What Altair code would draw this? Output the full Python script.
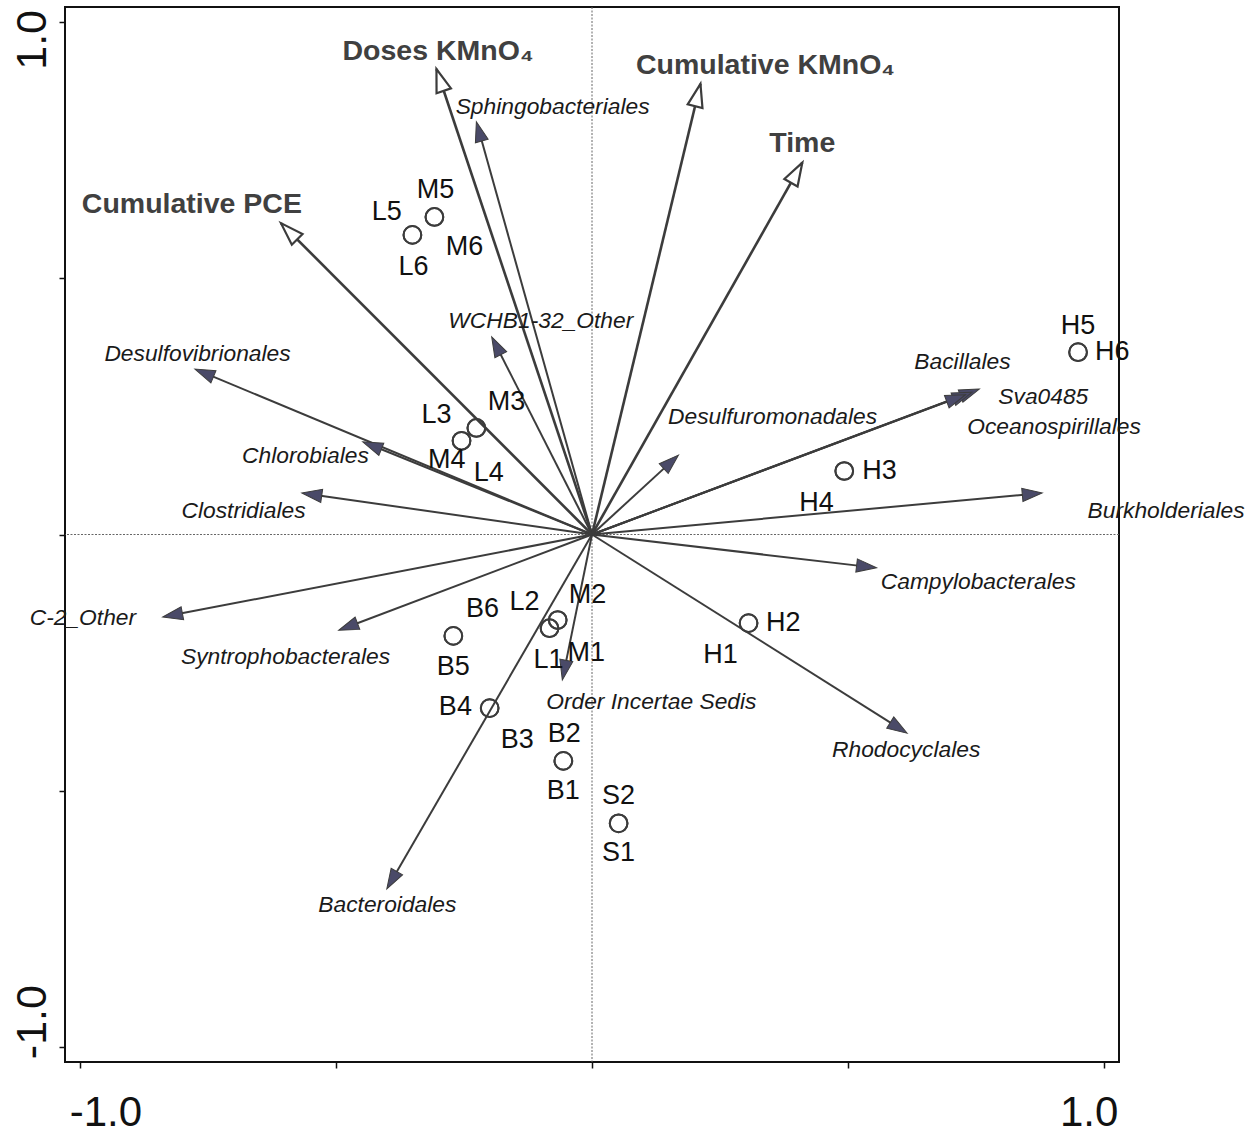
import altair as alt
import numpy as np
import pandas as pd

# ---- site (sample) scores; replicate pairs share one position ----
sample_names = ["L5", "L6", "M5", "M6", "L3", "M3", "M4", "L4", "H5", "H6", "H3", "H4", "H2",
                "H1", "L2", "L1", "M2", "M1", "B6", "B5", "B4", "B3", "B2", "B1", "S2", "S1"]
sample_x = [-0.351, -0.351, -0.308, -0.308, -0.226, -0.226, -0.255, -0.255, 0.950, 0.950,
            0.493, 0.493, 0.306, 0.306, -0.083, -0.083, -0.067, -0.067, -0.271, -0.271,
            -0.200, -0.200, -0.056, -0.056, 0.052, 0.052]
sample_y = [0.585, 0.585, 0.620, 0.620, 0.208, 0.208, 0.183, 0.183, 0.356, 0.356,
            0.124, 0.124, -0.173, -0.173, -0.183, -0.183, -0.167, -0.167, -0.198, -0.198,
            -0.339, -0.339, -0.442, -0.442, -0.564, -0.564]
# where each sample name is written
sample_label_x = [-0.401, -0.349, -0.306, -0.249, -0.304, -0.167, -0.284, -0.202, 0.950, 1.017,
                  0.562, 0.439, 0.374, 0.251, -0.132, -0.085, -0.009, -0.011, -0.214, -0.271,
                  -0.267, -0.146, -0.054, -0.056, 0.052, 0.052]
sample_label_y = [0.630, 0.523, 0.673, 0.562, 0.233, 0.259, 0.146, 0.120, 0.407, 0.356,
                  0.124, 0.062, -0.173, -0.235, -0.132, -0.245, -0.118, -0.231, -0.146, -0.259,
                  -0.337, -0.401, -0.390, -0.501, -0.511, -0.622]

# ---- environmental variables (open arrow heads) ----
env_names = ["Doses KMnO\u2084", "Cumulative KMnO\u2084", "Time", "Cumulative PCE"]
env_x = [-0.304, 0.212, 0.411, -0.608]
env_y = [0.909, 0.880, 0.726, 0.608]
env_label_x = [-0.301, 0.339, 0.411, -0.782]
env_label_y = [0.944, 0.916, 0.765, 0.646]

# ---- bacterial orders (filled arrow heads) ----
order_names = ["Sphingobacteriales", "WCHB1-32_Other", "Desulfovibrionales", "Chlorobiales",
               "Clostridiales", "C-2_Other", "Syntrophobacterales", "Order Incertae Sedis",
               "Bacteroidales", "Rhodocyclales", "Campylobacterales", "Burkholderiales",
               "Desulfuromonadales", "Bacillales", "Sva0485", "Oceanospirillales"]
order_x = [-0.226, -0.196, -0.776, -0.448, -0.567, -0.839, -0.495, -0.058,
           -0.401, 0.616, 0.556, 0.880, 0.169, 0.757, 0.743, 0.730]
order_y = [0.806, 0.386, 0.323, 0.181, 0.081, -0.161, -0.187, -0.284,
           -0.692, -0.388, -0.065, 0.081, 0.155, 0.284, 0.278, 0.273]
order_label_x = [-0.077, -0.100, -0.771, -0.560, -0.681, -0.995, -0.599, 0.116,
                 -0.400, 0.614, 0.755, 1.122, 0.353, 0.724, 0.882, 0.903]
order_label_y = [0.835, 0.417, 0.353, 0.153, 0.046, -0.163, -0.239, -0.327,
                 -0.724, -0.421, -0.093, 0.046, 0.230, 0.337, 0.269, 0.210]

FONT = "Liberation Sans"
LINE = "#3c3c3c"
HEAD_FILL = "#4a4a68"
PX_PER_UNIT = 512.0


def arrows(names, xs, ys, head_px):
    df = pd.DataFrame({"name": names, "tx": xs, "ty": ys})
    df["ox"] = 0.0
    df["oy"] = 0.0
    length = np.hypot(df["tx"], df["ty"])
    # the shaft stops inside the head so it never pokes past the tip
    back = (head_px * 0.5 / PX_PER_UNIT) / length
    df["ex"] = df["tx"] * (1 - back)
    df["ey"] = df["ty"] * (1 - back)
    # clockwise rotation from "up", as the symbol is drawn pointing up
    df["ang"] = (np.degrees(np.arctan2(df["tx"], df["ty"])) + 360) % 360
    return df


env_df = arrows(env_names, env_x, env_y, 23)
env_df["lx"] = env_label_x
env_df["ly"] = env_label_y
order_df = arrows(order_names, order_x, order_y, 20)
order_df["lx"] = order_label_x
order_df["ly"] = order_label_y
sample_df = pd.DataFrame({"name": sample_names, "x": sample_x, "y": sample_y,
                          "lx": sample_label_x, "ly": sample_label_y})
zero_df = pd.DataFrame({"v": [0.0]})

x_scale = alt.Scale(domain=[-1.03, 1.03], nice=False, zero=False)
y_scale = alt.Scale(domain=[-1.03, 1.03], nice=False, zero=False)
ticks = [-1.0, -0.5, 0.0, 0.5, 1.0]
label_expr = "datum.value == 1 ? '1.0' : datum.value == -1 ? '-1.0' : ''"

x_axis = alt.Axis(values=ticks, title=None, grid=False, domain=False,
                  tickSize=6, tickWidth=1.5, tickColor="#111111",
                  labelExpr=label_expr, labelFont=FONT, labelFontSize=42,
                  labelColor="#111111", labelFlush=False, labelOverlap=False,
                  labelAlign="center", labelBaseline="alphabetic", labelPadding=57,
                  labelOffset={"condition": {"test": "datum.value < 0", "value": 25},
                               "value": -15})
y_axis = alt.Axis(values=ticks, title=None, grid=False, domain=False,
                  tickSize=6, tickWidth=1.5, tickColor="#111111",
                  labelExpr=label_expr, labelFont=FONT, labelFontSize=43,
                  labelColor="#111111", labelFlush=False, labelOverlap=False,
                  labelAngle=270, labelAlign="center", labelBaseline="alphabetic",
                  labelPadding=14,
                  labelOffset={"condition": {"test": "datum.value > 0", "value": 17},
                               "value": -25})


def X(field):
    return alt.X(field, type="quantitative", scale=x_scale, axis=x_axis)


def Y(field):
    return alt.Y(field, type="quantitative", scale=y_scale, axis=y_axis)


zero_v = alt.Chart(zero_df).mark_rule(color="#666666", strokeWidth=1,
                                      strokeDash=[2, 1.5]).encode(x=X("v"))
zero_h = alt.Chart(zero_df).mark_rule(color="#666666", strokeWidth=1,
                                      strokeDash=[2, 1.5]).encode(y=Y("v"))

order_shafts = alt.Chart(order_df).mark_rule(color=LINE, strokeWidth=2).encode(
    x=X("ox"), y=Y("oy"), x2="ex", y2="ey")
env_shafts = alt.Chart(env_df).mark_rule(color=LINE, strokeWidth=2.6).encode(
    x=X("ox"), y=Y("oy"), x2="tx", y2="ty")

HEAD_PATH = "M0,0L-0.33,1L0.33,1Z"
order_heads = alt.Chart(order_df).mark_point(
    shape=HEAD_PATH, size=1600, filled=True, fill=HEAD_FILL, stroke=LINE,
    strokeWidth=1, strokeJoin="miter", opacity=1, fillOpacity=1
).encode(x=X("tx"), y=Y("ty"), angle=alt.Angle("ang:Q", scale=None))
env_heads = alt.Chart(env_df).mark_point(
    shape=HEAD_PATH, size=2116, filled=True, fill="white", stroke=LINE,
    strokeWidth=2.2, strokeJoin="miter", opacity=1, fillOpacity=1
).encode(x=X("tx"), y=Y("ty"), angle=alt.Angle("ang:Q", scale=None))

circles = alt.Chart(sample_df).mark_point(
    shape="circle", size=314, filled=False, color="#3c3c3c", strokeWidth=2, opacity=1
).encode(x=X("x"), y=Y("y"))

order_text = alt.Chart(order_df).mark_text(
    font=FONT, fontSize=22.8, fontStyle="italic", color="#1a1a1a",
    align="center", baseline="middle"
).encode(x=X("lx"), y=Y("ly"), text="name:N")
env_text = alt.Chart(env_df).mark_text(
    font=FONT, fontSize=28.5, fontWeight="bold", color="#404040",
    align="center", baseline="middle"
).encode(x=X("lx"), y=Y("ly"), text="name:N")
sample_text = alt.Chart(sample_df).mark_text(
    font=FONT, fontSize=27, color="#111111", align="center", baseline="middle"
).encode(x=X("lx"), y=Y("ly"), text="name:N")

chart = alt.layer(
    zero_v, zero_h, order_shafts, env_shafts, order_heads, env_heads, circles,
    order_text, env_text, sample_text
).properties(
    width=1054, height=1055,
    autosize=alt.AutoSizeParams(type="none"),
    padding={"left": 65, "top": 7, "right": 128, "bottom": 73},
    background="white",
).configure_view(stroke="#111111", strokeWidth=2)

chart.save("out.html", embed_options={"renderer": "svg", "actions": False})
